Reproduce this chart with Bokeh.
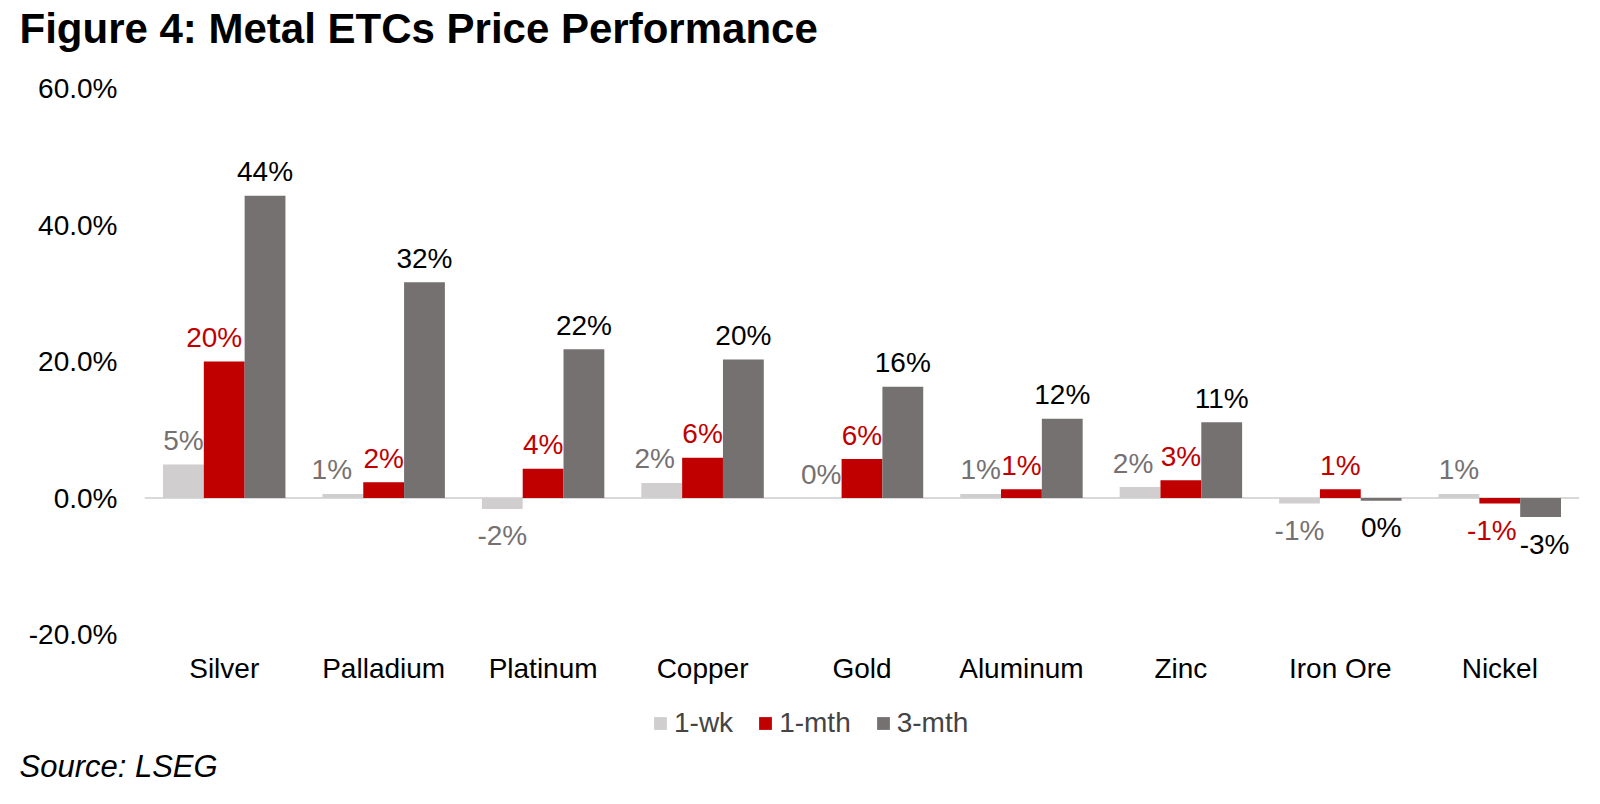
import math
from bokeh.plotting import figure
from bokeh.layouts import column
from bokeh.models import (ColumnDataSource, FactorRange, Range1d, FixedTicker,
                          Legend, LegendItem, Label, Span)
from bokeh.transform import dodge
from bokeh.core.properties import value
from bokeh.embed import file_html
from bokeh.resources import INLINE

# ---- data ----
categories = ["Silver", "Palladium", "Platinum", "Copper", "Gold",
              "Aluminum", "Zinc", "Iron Ore", "Nickel"]
wk1 = [4.9, 0.6, -1.6, 2.2, 0.0, 0.6, 1.6, -0.8, 0.6]
mth1 = [20.0, 2.3, 4.3, 5.9, 5.7, 1.3, 2.6, 1.3, -0.8]
mth3 = [44.3, 31.6, 21.8, 20.3, 16.3, 11.6, 11.1, -0.4, -2.8]
series_names = ["1-wk", "1-mth", "3-mth"]
y_ticks = [-20, 0, 20, 40, 60]
y_tick_labels = ["-20.0%", "0.0%", "20.0%", "40.0%", "60.0%"]
title_text = "Figure 4: Metal ETCs Price Performance"
source_text = "Source: LSEG"

bar_colors = ["#D0CECE", "#C00000", "#767171"]
label_colors = ["#767171", "#C00000", "#000000"]
FONT = "Liberation Sans"
FS = "28px"

# ---- layout (pixels) ----
W = 1584
TOP_H, MAIN_H, BOT_H = 60, 630, 98
BL, BR = 144, 5
BT = 28
FRAME_H = 546
BB = MAIN_H - BT - FRAME_H
# small horizontal nudges of individual data labels (series index, category)
label_nudge = {(0, "Palladium"): -11, (0, "Copper"): -7, (0, "Zinc"): -7,
               (1, "Silver"): -10, (1, "Nickel"): -8, (2, "Nickel"): 4}


def pct(v):
    r = int(math.floor(abs(v) + 0.5))
    if v < 0 and r != 0:
        r = -r
    return f"{r}%"


def bare(h):
    f = figure(width=W, height=h, x_range=Range1d(0, W), y_range=Range1d(0, h),
               x_axis_type=None, y_axis_type=None, output_backend="svg",
               toolbar_location=None, min_border=0, title=None)
    f.xgrid.visible = False
    f.ygrid.visible = False
    f.outline_line_color = None
    f.background_fill_color = "white"
    f.border_fill_color = "white"
    try:
        f.frame_align = False
    except Exception:
        pass
    return f


# ---- title strip ----
p_top = bare(TOP_H)
p_top.add_layout(Label(x=19, y=TOP_H - 28, text=title_text, text_font=FONT,
                       text_font_size="42px", text_font_style="bold",
                       text_color="#000000", text_baseline="middle"))

# ---- main chart ----
p_main = figure(x_range=FactorRange(factors=categories, range_padding=0),
                y_range=Range1d(-20, 60), title=None,
                width=W, height=MAIN_H, output_backend="svg",
                toolbar_location=None, min_border_left=BL, min_border_right=BR,
                min_border_top=BT, min_border_bottom=BB)
p_main.xgrid.visible = False
p_main.ygrid.visible = False
p_main.outline_line_color = None
p_main.background_fill_color = "white"
p_main.border_fill_color = "white"

for ax in (p_main.xaxis[0], p_main.yaxis[0]):
    ax.axis_line_color = None
    ax.major_tick_line_color = None
    ax.minor_tick_line_color = None
    ax.major_label_text_font = FONT
    ax.major_label_text_font_size = FS
    ax.major_label_text_color = "#000000"

p_main.xaxis.major_label_standoff = 12
p_main.yaxis.major_label_standoff = 21
p_main.yaxis.ticker = FixedTicker(ticks=y_ticks)
p_main.yaxis.major_label_overrides = dict(zip(y_ticks, y_tick_labels))

p_main.add_layout(Span(location=0, dimension="width", line_color="#D9D9D9",
                       line_width=2, level="underlay"))

offsets = [-0.256, 0.0, 0.256]
for i, vals in enumerate([wk1, mth1, mth3]):
    src = ColumnDataSource(dict(
        cat=categories, v=vals,
        lbl=[pct(v) for v in vals],
        yoff=[-24 if v >= 0 else 27 for v in vals],
        xoff=[label_nudge.get((i, c), 0) for c in categories],
    ))
    p_main.vbar(x=dodge("cat", offsets[i], range=p_main.x_range), top="v",
                bottom=0, width=0.256, source=src, fill_color=bar_colors[i],
                line_color=None)
    p_main.text(x=dodge("cat", offsets[i], range=p_main.x_range), y="v",
                text="lbl", x_offset="xoff", y_offset="yoff", source=src,
                text_align="center", text_baseline="middle",
                text_font=value(FONT), text_font_size=FS,
                text_color=label_colors[i])

# ---- legend + source strip ----
p_bot = bare(BOT_H)
legend_renderers = [p_bot.vbar(x=[0], top=[0], bottom=[0], width=1,
                               fill_color=c, line_color=None)
                    for c in bar_colors]
legend = Legend(items=[LegendItem(label=n, renderers=[r])
                       for n, r in zip(series_names, legend_renderers)],
                orientation="horizontal", location=(652, 49),
                glyph_width=16, glyph_height=16, label_standoff=6, spacing=24,
                padding=0, margin=0, border_line_color=None,
                background_fill_alpha=0, label_text_font=FONT,
                label_text_font_size=FS, label_height=32)
p_bot.add_layout(legend, "center")
p_bot.add_layout(Label(x=19, y=22, text=source_text, text_font=FONT,
                       text_font_size="31px", text_font_style="italic",
                       text_color="#000000", text_baseline="middle"))

p = column(p_top, p_main, p_bot, spacing=0)
open("out.html", "w").write(file_html(p, INLINE))
